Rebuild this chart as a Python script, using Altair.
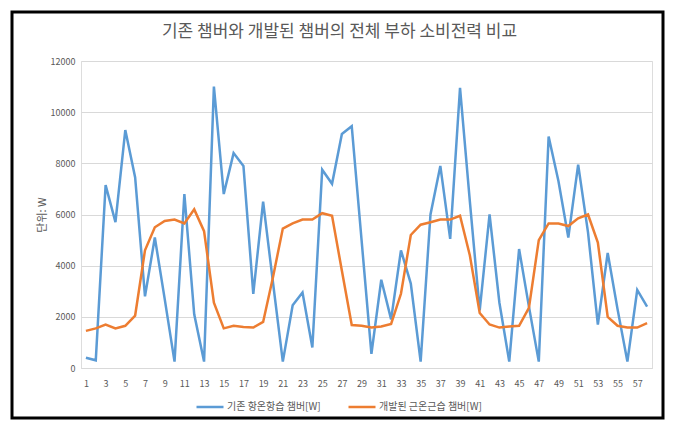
import altair as alt
import pandas as pd

# ---- data ----
points = list(range(1, 59))
existing_w = [400, 300, 7150, 5700, 9300, 7450, 2800, 5100, 2700, 250,
              6800, 2100, 250, 11000, 6800, 8400, 7900, 2900, 6500, 3350,
              250, 2450, 2950, 800, 7750, 7200, 9150, 9450, 5000, 550,
              3450, 1900, 4600, 3300, 250, 6000, 7900, 5050, 10950, 6500,
              2250, 6000, 2550, 250, 4650, 2400, 250, 9050, 7300, 5100,
              7950, 5300, 1700, 4500, 2300, 250, 3050, 2400]
developed_w = [1450, 1550, 1700, 1550, 1650, 2050, 4600, 5500, 5750, 5800,
               5650, 6200, 5350, 2550, 1550, 1650, 1600, 1580, 1800, 3550,
               5450, 5650, 5800, 5800, 6050, 5950, 3800, 1680, 1650, 1580,
               1620, 1720, 2900, 5200, 5600, 5700, 5800, 5800, 5950, 4400,
               2150, 1700, 1580, 1620, 1650, 2350, 5000, 5650, 5650, 5550,
               5850, 6000, 4900, 2000, 1650, 1580, 1580, 1750]
series_names = ["기존 항온항습 챔버[W]", "개발된 근온근습 챔버[W]"]
series_colors = ["#5B9BD5", "#ED7D31"]
x_tick_labels = list(range(1, 58, 2))
y_ticks = [0, 2000, 4000, 6000, 8000, 10000, 12000]
title_text = "기존 챔버와 개발된 챔버의 전체 부하 소비전력 비교"
y_title = "단위: W"

df = pd.DataFrame({
    "point": points * 2,
    "value": existing_w + developed_w,
    "series": [series_names[0]] * len(points) + [series_names[1]] * len(points),
    "order": [0] * len(points) + [1] * len(points),
})

FONT = "Noto Sans CJK KR"
GRAY = "#595959"

lines = alt.Chart(df).mark_line(strokeWidth=2.5).encode(
    x=alt.X("point:Q",
            scale=alt.Scale(domain=[0.5, 58.5], nice=False, zero=False),
            axis=alt.Axis(values=x_tick_labels, format="d", labelAngle=0,
                          ticks=False, grid=False, domain=True,
                          domainColor="#D9D9D9", labelPadding=11,
                          labelFontSize=9, labelColor=GRAY, labelFont=FONT,
                          title=None)),
    y=alt.Y("value:Q",
            scale=alt.Scale(domain=[0, 12000], nice=False),
            axis=alt.Axis(values=y_ticks, format="d", ticks=False,
                          domain=False, grid=True, gridColor="#D9D9D9",
                          labelPadding=6, labelFontSize=9, labelColor=GRAY,
                          labelFont=FONT, title=y_title, titleFont=FONT,
                          titleFontSize=11, titleFontWeight="normal",
                          titleColor=GRAY, titlePadding=3)),
    color=alt.Color("series:N",
                    scale=alt.Scale(domain=series_names, range=series_colors),
                    legend=alt.Legend(title=None, orient="none",
                                      direction="horizontal",
                                      legendX=114, legendY=331,
                                      symbolType="stroke", symbolSize=729,
                                      symbolStrokeWidth=2.5,
                                      labelFont=FONT, labelFontSize=10,
                                      labelColor=GRAY, columnPadding=22,
                                      labelOffset=2)),
    order=alt.Order("order:Q"),
    detail="series:N",
)

frame = alt.Chart(alt.Data(values=[{}])).mark_rect(
    fill=None, stroke="black", strokeWidth=3
).encode(
    x=alt.value(-69), x2=alt.value(582),
    y=alt.value(-49), y2=alt.value(357),
)

chart = alt.layer(lines, frame).properties(
    width=571, height=307,
    title=alt.TitleParams(title_text, font=FONT, fontSize=17,
                          fontWeight="normal", color=GRAY, anchor="middle",
                          dx=-27, offset=-30),
    autosize=alt.AutoSizeParams(type="none"),
    padding={"left": 73, "top": 53, "right": 15, "bottom": 52},
).configure_view(stroke=None).configure(background="white")

chart.save("out.html", embed_options={"renderer": "svg", "actions": False})
